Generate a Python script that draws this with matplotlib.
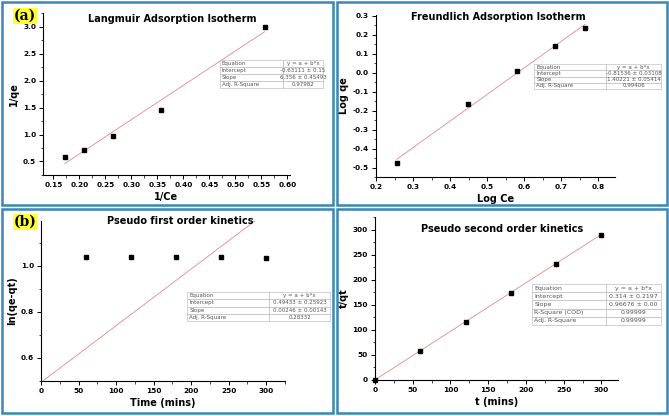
import matplotlib
matplotlib.use("Agg")
import matplotlib.pyplot as plt
from matplotlib.patches import Rectangle
from matplotlib.ticker import MultipleLocator

plt.rcParams["axes.unicode_minus"] = False

W, H = 669, 416

# Langmuir
lang_x = [0.172, 0.208, 0.264, 0.357, 0.556]
lang_y = [0.58, 0.72, 0.97, 1.46, 3.0]
lang_fit = (-0.63111, 6.356)
lang_table = [["Equation", "y = a + b*x"],
              ["Intercept", "-0.63111 \u00b1 0.15"],
              ["Slope", "6.356 \u00b1 0.45493"],
              ["Adj. R-Square", "0.97982"]]

# Freundlich
freu_x = [0.256, 0.448, 0.580, 0.682, 0.764]
freu_y = [-0.475, -0.167, 0.012, 0.140, 0.238]
freu_fit = (-0.81536, 1.40221)
freu_table = [["Equation", "y = a + b*x"],
              ["Intercept", "-0.81536 \u00b1 0.03108"],
              ["Slope", "1.40221 \u00b1 0.05414"],
              ["Adj. R-Square", "0.99406"]]

# Pseudo first order
pfo_t = [60, 120, 180, 240, 300]
pfo_y = [1.038, 1.038, 1.038, 1.037, 1.035]
pfo_fit = (0.49433, 0.00246)
pfo_table = [["Equation", "y = a + b*x"],
             ["Intercept", "0.49433 \u00b1 0.25923"],
             ["Slope", "0.00246 \u00b1 0.00143"],
             ["Adj. R-Square", "0.28332"]]

# Pseudo second order
pso_t = [0, 60, 120, 180, 240, 300]
pso_y = [0, 58, 116, 174, 232, 290]
pso_fit = (0.314, 0.96676)
pso_table = [["Equation", "y = a + b*x"],
             ["Intercept", "0.314 \u00b1 0.2197"],
             ["Slope", "0.96676 \u00b1 0.00"],
             ["R-Square (COD)", "0.99999"],
             ["Adj. R-Square", "0.99999"]]


def rect(x0, y0, x1, y1):
    # pixel box (top-left origin) -> figure fraction
    return [x0 / W, 1 - y1 / H, (x1 - x0) / W, (y1 - y0) / H]


fig = plt.figure(figsize=(W / 100, H / 100), dpi=100)
fig.patch.set_facecolor("white")

# panel frames
for x0, y0, x1, y1 in [(2, 2, 333, 205), (337, 2, 667, 205),
                       (2, 209, 333, 413), (337, 209, 667, 413)]:
    fig.patches.append(Rectangle((x0 / W, 1 - y1 / H), (x1 - x0) / W, (y1 - y0) / H,
                                 transform=fig.transFigure, fill=False,
                                 edgecolor="#3b86b8", linewidth=1.8))


def panel(box, x, y, fit, xfit, xlim, ylim, xmaj, xmin, ymaj, ymin,
          title, title_pos, xlabel, ylabel, table, tbox, col0, fs=4):
    ax = fig.add_axes(rect(*box))
    ax.plot(xfit, [fit[0] + fit[1] * v for v in xfit], color="#e08a8a", lw=0.6)
    ax.plot(x, y, "s", color="black", ms=3.3, clip_on=False)
    ax.set_xlim(*xlim)
    ax.set_ylim(*ylim)
    ax.xaxis.set_major_locator(MultipleLocator(xmaj))
    ax.xaxis.set_minor_locator(MultipleLocator(xmin))
    ax.yaxis.set_major_locator(MultipleLocator(ymaj))
    ax.yaxis.set_minor_locator(MultipleLocator(ymin))
    for s in ["top", "right"]:
        ax.spines[s].set_visible(False)
    for s in ["left", "bottom"]:
        ax.spines[s].set_linewidth(0.8)
    ax.tick_params(which="major", direction="out", length=3, width=0.7, labelsize=5.3, pad=2)
    ax.tick_params(which="minor", direction="out", length=1.8, width=0.5)
    for lab in ax.get_xticklabels() + ax.get_yticklabels():
        lab.set_fontweight("bold")
    ax.set_xlabel(xlabel, fontsize=7, fontweight="bold", labelpad=3)
    ax.set_ylabel(ylabel, fontsize=7, fontweight="bold", labelpad=3)
    fig.text(title_pos[0] / W, 1 - title_pos[1] / H, title, fontsize=7,
             fontweight="bold", ha="center", va="center")
    tax = fig.add_axes(rect(*tbox))
    tax.axis("off")
    tb = tax.table(cellText=table, bbox=[0, 0, 1, 1], cellLoc="center",
                   colWidths=[col0, 1 - col0])
    tb.auto_set_font_size(False)
    tb.set_fontsize(fs)
    for (r, c), cell in tb.get_celld().items():
        cell.set_edgecolor("#b0b0b0")
        cell.set_linewidth(0.4)
        cell.get_text().set_color("#555555")
        if c == 0:
            cell.get_text().set_ha("left")
            cell._loc = "left"
            cell.PAD = 0.03
    return ax


panel((43, 13, 290, 175), lang_x, lang_y, lang_fit, [lang_x[0], lang_x[-1]],
      (0.13, 0.605), (0.25, 3.25), 0.05, 0.025, 0.5, 0.25,
      "Langmuir Adsorption Isotherm", (172, 19), "1/Ce", "1/qe",
      lang_table, (220, 60, 323, 88), 0.61)

panel((376, 15, 615, 177), freu_x, freu_y, freu_fit, [freu_x[0], freu_x[-1]],
      (0.2, 0.845), (-0.55, 0.305), 0.1, 0.05, 0.1, 0.05,
      "Freundlich Adsorption Isotherm", (498, 17), "Log Ce", "Log qe",
      freu_table, (534, 64, 661, 89), 0.57)

panel((41, 221, 285, 381), pfo_t, pfo_y, pfo_fit, [0, 300],
      (0, 325), (0.5, 1.195), 50, 25, 0.2, 0.1,
      "Pseudo first order kinetics", (180, 221), "Time (mins)", "ln(qe-qt)",
      pfo_table, (187, 292, 330, 321), 0.575)

panel((375, 217, 618, 380), pso_t, pso_y, pso_fit, [0, 300],
      (0, 322), (0, 325), 50, 25, 50, 25,
      "Pseudo second order kinetics", (502, 229), "t (mins)", "t/qt",
      pso_table, (532, 284, 661, 325), 0.57, fs=4.5)

# panel letters
for lbl, (px, py) in [("(a)", (25, 16)), ("(b)", (25, 222))]:
    fig.text(px / W, 1 - py / H, lbl, fontsize=10, fontweight="bold",
             family="DejaVu Serif", ha="center", va="center",
             bbox=dict(boxstyle="square,pad=0.05", facecolor="#ffff33", edgecolor="none"))

fig.savefig("out.png", dpi=100)
